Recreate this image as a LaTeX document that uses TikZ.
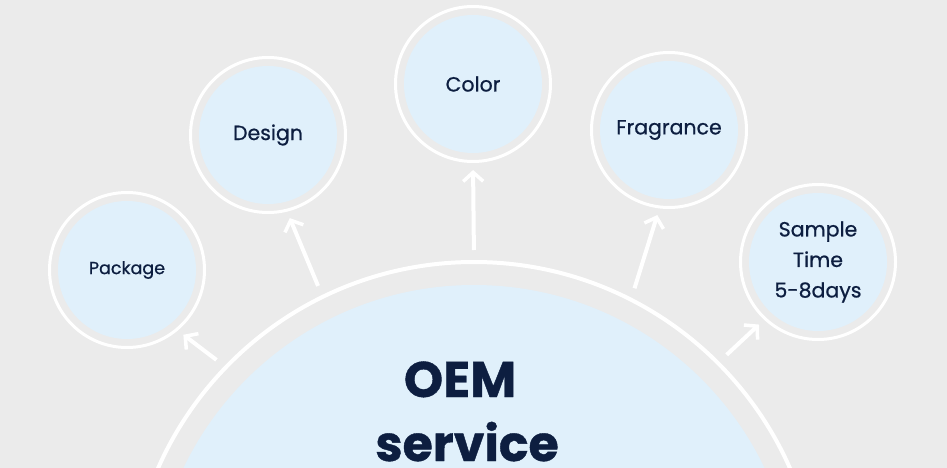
\documentclass[tikz,border=0pt]{standalone}
\usepackage{fontspec}
\setmainfont{Poppins}
\newfontfamily\medfont{Poppins}[FakeBold=0.7]
\newfontfamily\heavyfont{Poppins}[BoldFeatures={FakeBold=0.8}]
\usetikzlibrary{arrows.meta}
\definecolor{bgc}{HTML}{EBEBEB}
\definecolor{fillc}{HTML}{E0F0FB}
\definecolor{navy}{HTML}{0D1E40}
\tikzset{
  ring/.style={circle,draw=white,line width=3pt,minimum size=155pt,inner sep=0pt},
  bub/.style={circle,fill=fillc,minimum size=138pt,inner sep=0pt,text=navy,font=\medfont\fontsize{20.5}{30.5}\selectfont,align=center},
  conn/.style={draw=white,line width=4pt,-{Straight Barb[length=9pt,width=20pt,line width=3.5pt]},shorten <=10pt,shorten >=7pt},
  bigtxt/.style={text=navy,font=\heavyfont\bfseries\fontsize{50}{66}\selectfont,anchor=base,inner sep=0pt}
}
\begin{document}
\begin{tikzpicture}[x=1pt,y=-1pt]
\useasboundingbox (0,0) rectangle (947,468);
\fill[bgc] (0,0) rectangle (947,468);
\begin{scope}
\clip (0,0) rectangle (947,468);
\node[circle,draw=white,line width=4pt,minimum size=690pt,inner sep=0pt] (big) at (474,607) {};
\fill[fillc] (474,607) circle (322pt);
\end{scope}
\node[bigtxt] (oemtxt) at (460,397) {OEM};
\node[bigtxt,font=\heavyfont\bfseries\fontsize{49}{66}\selectfont] (servtxt) at (467,461) {service};
% small bubbles
\node[ring] (pkgR) at (127,270) {};
\node[bub,font=\medfont\fontsize{17.5}{22}\selectfont] (pkg) at (127,270) {Package};
\node[ring] (desR) at (268,135) {};
\node[bub] (des) at (268,135) {Design};
\node[ring] (colR) at (473,84) {};
\node[bub] (col) at (473,84) {Color};
\node[ring] (frR) at (669,130) {};
\node[bub] (fr) at (669,130) {Fragrance};
\node[ring] (smR) at (818,262) {};
\node[bub] (sm) at (818,262) {Sample\\Time\\5-8days};
% connectors
\draw[conn] (big.136.8) -- (pkgR.310);
\draw[conn] (big.116) -- (desR.284);
\draw[conn] (big.90) -- (colR.270);
\draw[conn] (big.63.5) -- (frR.263.5);
\draw[conn] (big.45.5) -- (smR.227.7);
\end{tikzpicture}
\end{document}
